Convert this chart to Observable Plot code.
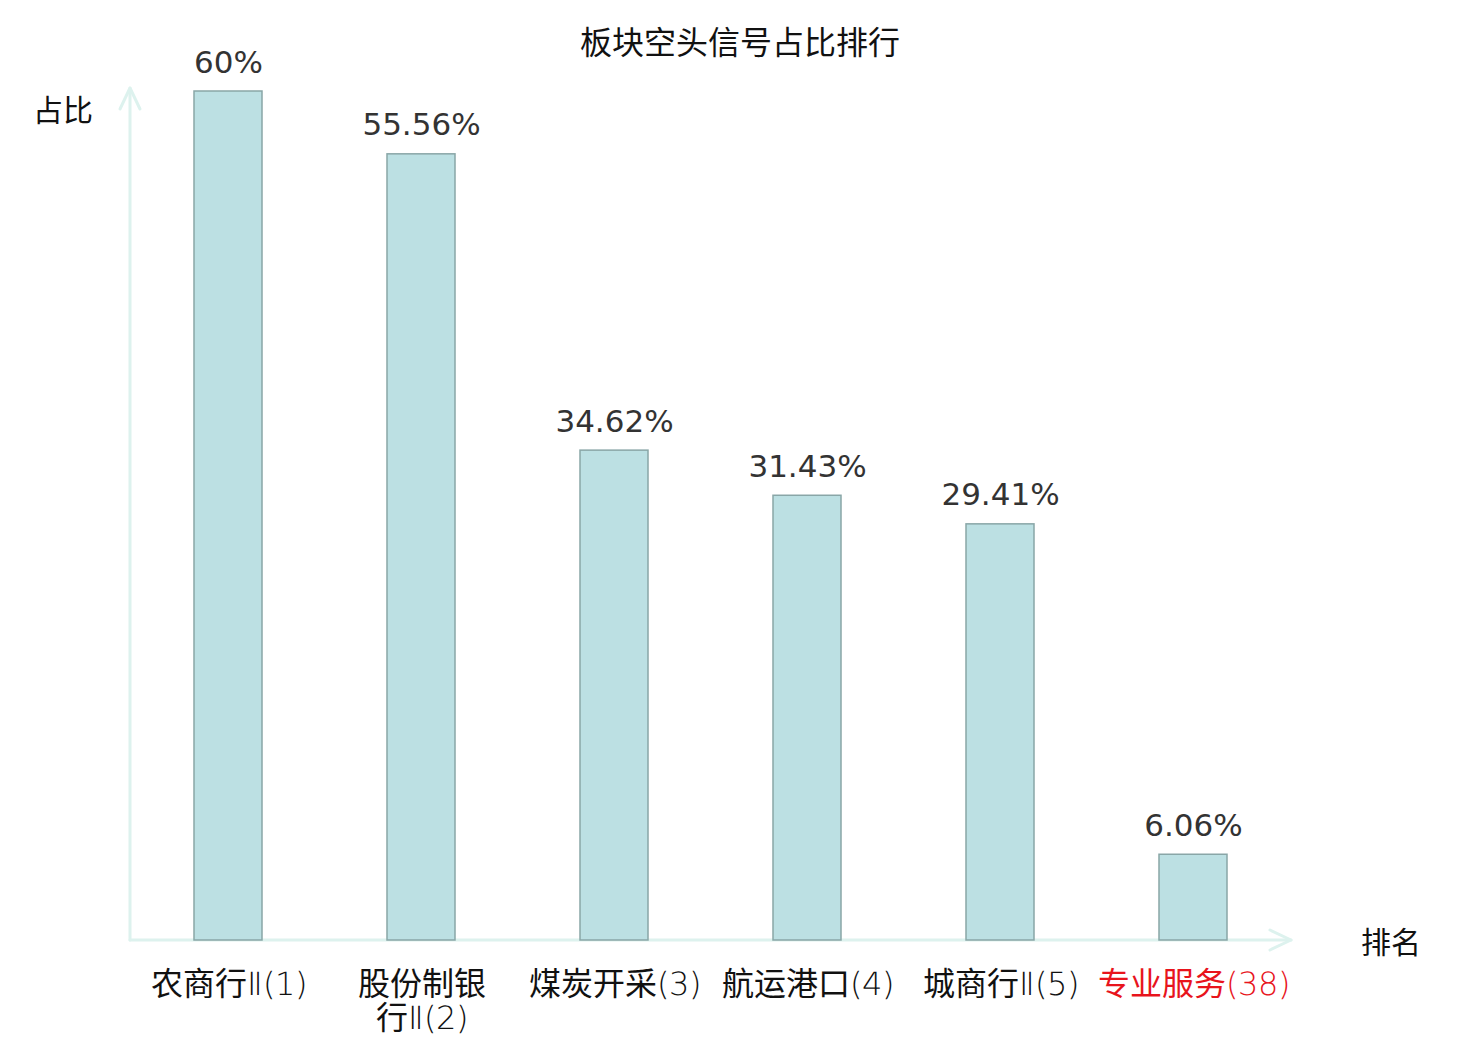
<!DOCTYPE html>
<html>
<head>
<meta charset="utf-8">
<script src="https://cdn.jsdelivr.net/npm/d3@7"></script>
<script src="https://cdn.jsdelivr.net/npm/@observablehq/plot@0.6"></script>
<style>
  @font-face { font-family: "LblMix"; src: local("DejaVu Sans ExtraLight"), local("DejaVuSans-ExtraLight"); unicode-range: U+0000-00FF, U+2150-218F; }
  @font-face { font-family: "LblMix"; src: local("Noto Sans CJK SC Regular"), local("NotoSansCJKsc-Regular"), local("Noto Sans CJK SC"); unicode-range: U+2E80-9FFF, U+F900-FFEF; }
  body { margin: 0; background: #fff; }
  #wrap { position: relative; width: 1480px; height: 1040px; font-family: "DejaVu Sans", "Noto Sans CJK SC", sans-serif; }
  .lbl { position: absolute; font-family: "Noto Sans CJK SC", sans-serif; color: #111; font-size: 30px; line-height: 40px; white-space: nowrap; }
  #title { left: 0; width: 1480px; top: 20px; text-align: center; font-size: 32px; }
  #ylab { left: 33px; top: 88px; }
  #xlab { left: 1361px; top: 920px; }
  svg { position: absolute; left: 0; top: 0; }
</style>
</head>
<body>
<div id="wrap">
  <div id="chart"></div>
  <div class="lbl" id="title">板块空头信号占比排行</div>
  <div class="lbl" id="ylab">占比</div>
  <div class="lbl" id="xlab">排名</div>
</div>
<script>
const categories = ["农商行Ⅱ(1)", "股份制银行Ⅱ(2)", "煤炭开采(3)", "航运港口(4)", "城商行Ⅱ(5)", "专业服务(38)"];
const tickLabels = ["农商行Ⅱ(1)", "股份制银\n行Ⅱ(2)", "煤炭开采(3)", "航运港口(4)", "城商行Ⅱ(5)", "专业服务(38)"];
const values = [60, 55.56, 34.62, 31.43, 29.41, 6.06];
const highlighted = [false, false, false, false, false, true];

const data = categories.map((c, i) => ({cat: c, label: tickLabels[i], value: values[i], hl: highlighted[i]}));

const axisColor = "#ddf2ee";

function axes(index, scales, values, dims) {
  const x0 = dims.marginLeft, x1 = dims.width - dims.marginRight;
  const y0 = dims.height - dims.marginBottom, y1 = dims.marginTop;
  const g = d3.create("svg:g").attr("fill", "none").attr("stroke", axisColor).attr("stroke-width", 3).attr("stroke-linecap", "round").attr("stroke-linejoin", "round");
  g.append("line").attr("x1", x0).attr("x2", x0).attr("y1", y0).attr("y2", y1 - 3);
  g.append("path").attr("d", `M${x0 - 10},${y1 + 18}L${x0},${y1 - 3}L${x0 + 10},${y1 + 18}`);
  g.append("line").attr("x1", x0).attr("x2", x1 + 1).attr("y1", y0).attr("y2", y0);
  g.append("path").attr("d", `M${x1 - 20},${y0 - 10}L${x1 + 1},${y0}L${x1 - 20},${y0 + 10}`);
  return g.node();
}

const chart = Plot.plot({
  width: 1480,
  height: 1040,
  marginLeft: 130,
  marginRight: 190,
  marginTop: 91,
  marginBottom: 100,
  style: {background: "transparent", overflow: "visible"},
  x: {domain: categories, paddingInner: 0.65, paddingOuter: 0.325, axis: null},
  y: {domain: [0, 60], axis: null},
  marks: [
    axes,
    Plot.barY(data, {x: "cat", y: "value", fill: "#bce0e3", stroke: "#89a6a7", strokeWidth: 1.5}),
    Plot.text(data, {x: "cat", y: "value", text: d => `${d.value}%`, lineAnchor: "bottom", dy: -19, fontSize: 31, fill: "#333", fontFamily: "DejaVu Sans"}),
    Plot.text(data, {x: "cat", frameAnchor: "bottom", text: "label", lineAnchor: "top", dy: 30, fontSize: 32, lineHeight: 1.06, fill: d => d.hl ? "#e8141c" : "#111", fontFamily: "LblMix, 'Noto Sans CJK SC'"})
  ]
});
document.getElementById("chart").appendChild(chart);
</script>
</body>
</html>
